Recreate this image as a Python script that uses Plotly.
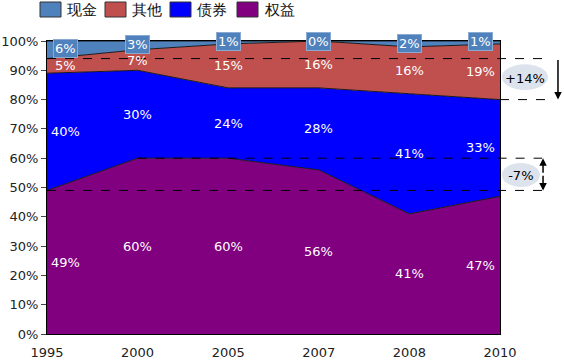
import plotly.graph_objects as go

years = ["1995", "2000", "2005", "2007", "2008", "2010"]
equity = [49, 60, 60, 56, 41, 47]
bonds = [40, 30, 24, 28, 41, 33]
other = [5, 7, 15, 16, 16, 19]
cash = [6, 3, 1, 0, 2, 1]
series_names = ["权益", "债券", "其他", "现金"]
colors = ["#800080", "#0000FF", "#C0504D", "#4F81BD"]
y_ticks = [0, 10, 20, 30, 40, 50, 60, 70, 80, 90, 100]
y_tick_text = [f"{v}%" for v in y_ticks]
delta_labels = ["+14%", "-7%"]

series = [equity, bonds, other, cash]
font = "DejaVu Sans"
PX_PER_UNIT = 293 / 100.0
PLOT_L, PLOT_W, PLOT_T, PLOT_H = 47, 453, 41, 293


def px_x(px):
    return (px - PLOT_L) / PLOT_W


def px_y(py):
    return 1 - (py - PLOT_T) / PLOT_H


fig = go.Figure()
for name, vals, col in zip(series_names, series, colors):
    fig.add_trace(go.Scatter(
        x=list(range(len(years))), y=vals, name=name, mode="lines", stackgroup="one",
        line=dict(color="#1a1a1a", width=1), fillcolor=col, showlegend=False,
    ))

# legend drawn as swatches + labels along the top (reference order: cash, other, bonds, equity)
legend_left = [40, 105, 170, 237]
for k, (name, col) in enumerate(zip(series_names[::-1], colors[::-1])):
    x0 = legend_left[k]
    fig.add_shape(type="rect", xref="paper", yref="paper",
                  x0=px_x(x0), x1=px_x(x0 + 21), y0=px_y(17), y1=px_y(2),
                  fillcolor=col, line=dict(color="#333", width=1), layer="above")
    fig.add_annotation(xref="paper", yref="paper", x=px_x(x0 + 25), y=px_y(10),
                       xanchor="left", yanchor="middle", text=name, showarrow=False,
                       font=dict(family=font, size=15, color="#111"))

# data labels at the middle of each band
base = [0] * len(years)
xshifts = [18, 0, 0, 0, 0, -20]
for si, vals in enumerate(series):
    for i, v in enumerate(vals):
        mid = base[i] + v / 2
        if si == 3:
            mid = min(base[i] + v / 2 + 0.3, 99.8)
        ann = dict(x=i, y=mid, xref="x", yref="y", text=f"{v}%", showarrow=False,
                   xshift=xshifts[i],
                   font=dict(family=font, size=13, color="white"))
        if si == 3:
            ann.update(bgcolor="#4F81BD", bordercolor="#8aaad2", borderwidth=1, borderpad=1)
        fig.add_annotation(**ann)
    base = [b + v for b, v in zip(base, vals)]

# reference levels
top_1995 = equity[0] + bonds[0] + other[0]
bot_2010 = equity[-1] + bonds[-1]
eq_2000 = equity[1]
eq_1995 = equity[0]
dash = dict(color="black", width=1, dash="dash")
fig.add_shape(type="line", xref="paper", yref="y", x0=0, x1=1.106, y0=top_1995, y1=top_1995, line=dash, layer="above")
fig.add_shape(type="line", xref="paper", yref="y", x0=1, x1=1.106, y0=bot_2010, y1=bot_2010, line=dash, layer="above")
fig.add_shape(type="line", xref="paper", yref="y", x0=0.2, x1=1.093, y0=eq_2000, y1=eq_2000, line=dash, layer="above")
fig.add_shape(type="line", xref="paper", yref="y", x0=0, x1=1.093, y0=eq_1995, y1=eq_1995, line=dash, layer="above")

# ellipses with their labels
fig.add_shape(type="circle", xref="paper", yref="y", x0=1.004, x1=1.106, y0=83.3, y1=92.1,
              fillcolor="#dde3ec", line=dict(width=0), layer="below",
              label=dict(text=delta_labels[0], font=dict(family=font, size=13, color="black"),
                         textposition="middle center"))
fig.add_shape(type="circle", xref="paper", yref="y", x0=1.004, x1=1.088, y0=50.2, y1=58.4,
              fillcolor="#dde3ec", line=dict(width=0), layer="below",
              label=dict(text=delta_labels[1], font=dict(family=font, size=13, color="black"),
                         textposition="middle center"))

# arrows
arrow = dict(xref="paper", yref="y", text="", showarrow=True, arrowhead=2, arrowsize=1,
             arrowwidth=1.5, arrowcolor="black", ax=0)
fig.add_annotation(x=1.128, y=bot_2010, ay=-(top_1995 - bot_2010) * PX_PER_UNIT, **arrow)
fig.add_annotation(x=1.095, y=eq_1995, ay=-(eq_2000 - eq_1995) * PX_PER_UNIT / 2, **arrow)
fig.add_annotation(x=1.095, y=eq_2000, ay=(eq_2000 - eq_1995) * PX_PER_UNIT / 2, **arrow)

fig.update_layout(
    width=564, height=360,
    margin=dict(l=47, r=64, t=41, b=26, autoexpand=False),
    paper_bgcolor="white", plot_bgcolor="white",
    font=dict(family=font, size=13, color="#222"),
    showlegend=False,
)
fig.update_xaxes(range=[0, 5], tickvals=list(range(len(years))), ticktext=years,
                 showline=True, linecolor="black", ticklabelstandoff=6,
                 ticks="", showgrid=False, tickfont=dict(size=13), mirror=True, zeroline=False)
fig.update_yaxes(range=[0, 100], tickvals=y_ticks, ticktext=y_tick_text, showline=True,
                 linecolor="black", ticks="outside", ticklen=5, showgrid=False,
                 tickfont=dict(size=13), mirror=True, zeroline=False)

fig.write_html("out.html", config={"displayModeBar": False},
               post_script="document.body.style.margin='0';")
